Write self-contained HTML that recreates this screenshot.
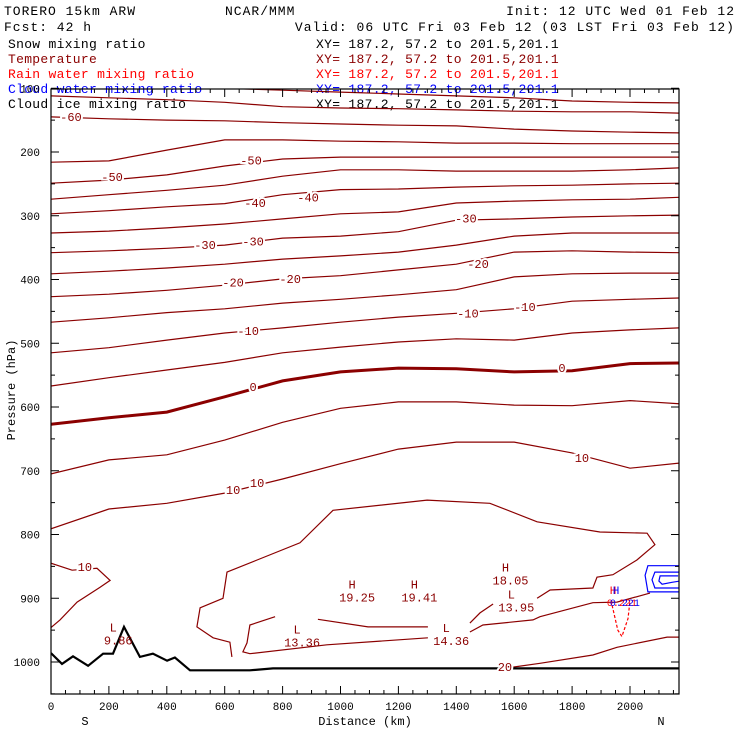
<!DOCTYPE html>
<html><head><meta charset="utf-8"><style>
html,body{margin:0;padding:0;background:#fff;}
svg{display:block;}
text{font-family:"Liberation Mono",monospace;}
.hdr{letter-spacing:1px;}
.leg{letter-spacing:0.3px;}
</style></head><body>
<svg id="chart" width="740" height="740" viewBox="0 0 740 740" xmlns="http://www.w3.org/2000/svg">
<g font-size="13">
<text class="hdr" x="4" y="15" fill="#000">TORERO  15km ARW</text>
<text class="hdr" x="225" y="15" fill="#000">NCAR/MMM</text>
<text class="hdr" x="735" y="15" text-anchor="end" fill="#000">Init: 12 UTC Wed 01 Feb 12</text>
<text class="hdr" x="4" y="31" fill="#000">Fcst:   42 h</text>
<text class="hdr" x="735" y="31" text-anchor="end" fill="#000">Valid: 06 UTC Fri 03 Feb 12 (03 LST Fri 03 Feb 12)</text>
<text class="leg" x="8" y="48" fill="#000">Snow mixing ratio</text>
<text class="leg" x="316" y="48" fill="#000">XY= 187.2, 57.2 to 201.5,201.1</text>
<text class="leg" x="8" y="63" fill="#8b0000">Temperature</text>
<text class="leg" x="316" y="63" fill="#8b0000">XY= 187.2, 57.2 to 201.5,201.1</text>
<text class="leg" x="8" y="78" fill="#ff0000">Rain water mixing ratio</text>
<text class="leg" x="316" y="78" fill="#ff0000">XY= 187.2, 57.2 to 201.5,201.1</text>
<text class="leg" x="8" y="93" fill="#0000ff">Cloud water mixing ratio</text>
<text class="leg" x="316" y="93" fill="#0000ff">XY= 187.2, 57.2 to 201.5,201.1</text>
<text class="leg" x="8" y="108" fill="#000">Cloud ice mixing ratio</text>
<text class="leg" x="316" y="108" fill="#000">XY= 187.2, 57.2 to 201.5,201.1</text>
</g>
<defs><clipPath id="plotclip"><rect x="51" y="89" width="628" height="605"/></clipPath></defs>
<g id="plot" clip-path="url(#plotclip)"></g>
<g id="overlay"></g>
<g id="axes"></g>
<text x="0" y="0" font-size="12" transform="translate(15,390) rotate(-90)" text-anchor="middle" fill="#000">Pressure (hPa)</text>
<text x="365" y="725" font-size="12" text-anchor="middle" fill="#000">Distance (km)</text>
<text x="85" y="725" font-size="12" text-anchor="middle" fill="#000">S</text>
<text x="661" y="725" font-size="12" text-anchor="middle" fill="#000">N</text>
</svg>
<script>
const NS="http://www.w3.org/2000/svg";
// ---- data ----
const isoKm=[0,200,400,600,800,1000,1200,1400,1600,1800,2000,2170];
const isoTemps=[-70,-65,-60,-55,-50,-45,-40,-35,-30,-25,-20,-15,-10,-5,0,5,10];
const isoM70=[95,96,98,100,103,106,109,112,115,120,122,123];
const isoM65=[112,115,118,122,129,131,132,134,136,137,137,139];
const isoM60=[145,148,150,151,154,156,158,159,164,167,169,170];
const isoM55=[216,214,197,181,181,183,184,186,186,187,187,187];
const isoM50=[249,244,236,222,211,208,208,208,208,208,208,208];
const isoM45=[274,267,260,252,238,228,228,230,230,230,228,225];
const isoM40=[297,292,286,281,267,259,258,255,253,252,250,249];
const isoM35=[327,324,319,313,305,297,294,280,277,275,274,271];
const isoM30=[358,355,351,346,335,332,325,307,305,302,300,299];
const isoM25=[391,387,382,376,368,363,357,346,332,327,327,327];
const isoM20=[427,423,417,409,399,394,385,376,357,355,357,358];
const isoM15=[467,460,452,446,437,431,424,416,396,391,390,390];
const isoM10=[515,507,495,484,476,467,459,453,446,434,431,429];
const isoM5=[567,554,542,530,515,506,498,493,495,484,479,476];
const iso0=[627,617,608,584,559,545,539,540,545,543,532,531];
const iso5=[705,683,675,652,624,602,592,592,597,598,590,595];
const iso10=[791,760,751,735,713,689,666,655,655,672,696,688];
const isoLines=[isoM70,isoM65,isoM60,isoM55,isoM50,isoM45,isoM40,isoM35,isoM30,isoM25,isoM20,isoM15,isoM10,isoM5,iso0,iso5,iso10];
// lower contours: [km, hPa] pairs
const c15a=[[0,845],[73,856],[159,853],[204,872],[169,883],[90,906],[31,934],[0,946]];
const c15b=[[625,992],[618,969],[560,962],[504,945],[515,915],[594,900],[608,859],[712,840],[860,813],[974,762],[1299,746],[1516,751],[1679,780],[1896,796],[2059,798],[2086,816],[2024,840],[1941,863],[1886,867],[1872,884],[1724,887],[1679,900]];
const c15c=[[774,929],[687,942],[677,970],[663,984],[687,987],[953,973],[1302,962]];
const c15d=[[1447,953],[1492,942],[1665,934],[1689,929],[1872,907],[1955,906],[2069,892]];
const c15e=[[922,933],[1095,945],[1302,945]];
const c15f=[[1447,939],[1482,923],[1527,909]];
const c20=[[1596,1008],[1689,1002],[1872,989],[1955,977],[2128,961],[2170,961]];
const lowerContours=[c15a,c15b,c15c,c15d,c15e,c15f,c20];
const terrainKm=[0,38,76,128,180,214,252,307,352,401,428,480,687,767,2170];
const terrainHPa=[986,1003,991,1006,987,987,945,992,987,998,993,1013,1013,1010,1010];
const cloudW1=[[2173,849],[2062,849],[2052,864],[2062,890],[2173,890]];
const cloudW2=[[2173,859],[2086,859],[2076,871],[2086,884],[2173,884]];
const cloudW3=[[2166,865],[2104,865],[2100,873],[2111,878],[2145,875],[2173,873]];
const rainDash=[[1938,911],[1958,950],[1972,960],[1993,932],[2000,904]];
const labelText=["-60","-50","-50","-40","-40","-30","-30","-30","-20","-20","-20","-10","-10","-10","0","0","10","10","10","10","20"];
const labelKm=[69,211,691,705,888,532,698,1433,629,826,1475,681,1440,1637,698,1765,629,712,1834,117,1568];
const labelHPa=[145,239,213,280,271,346,340,304,405,399,376,481,453,443,569,539,730,719,680,851,1008];
const extremaType=["L","L","H","H","H","L","L"];
const extremaVal=["9.86","13.36","19.25","19.41","18.05","13.95","14.36"];
const extremaKm=[215,850,1040,1255,1570,1590,1365];
const extremaHPa=[952,955,885,885,858,900,953];
const xTicks=[0,200,400,600,800,1000,1200,1400,1600,1800,2000];
const yTicks=[100,200,300,400,500,600,700,800,900,1000];
// ---- axes functions ----
const X=km=>51+km*0.2895;
const Y=p=>152+(p-200)*0.6375;
const plot=document.getElementById('plot');
const overlay=document.getElementById('overlay');
const axes=document.getElementById('axes');
function pathFrom(pts){return pts.map((q,i)=>(i?'L':'M')+X(q[0]).toFixed(1)+','+Y(q[1]).toFixed(1)).join(' ');}
isoLines.forEach((arr,i)=>{
  const p=document.createElementNS(NS,'path');
  
  
  p.setAttribute('d',pathFrom(arr.map((v,j)=>[isoKm[j],v])));
  p.setAttribute('fill','none');p.setAttribute('stroke','#8b0000');
  p.setAttribute('stroke-width',isoTemps[i]===0?3:1.2);
  plot.appendChild(p);
});
lowerContours.forEach((arr,i)=>{
  const p=document.createElementNS(NS,'path');
  
  
  p.setAttribute('d',pathFrom(arr));
  p.setAttribute('fill','none');p.setAttribute('stroke','#8b0000');p.setAttribute('stroke-width',1.2);
  plot.appendChild(p);
});
[cloudW1,cloudW2,cloudW3].forEach(arr=>{
  const p=document.createElementNS(NS,'path');
  
  
  p.setAttribute('d',pathFrom(arr));
  p.setAttribute('fill','none');p.setAttribute('stroke','#0000ff');p.setAttribute('stroke-width',1.2);
  plot.appendChild(p);
});
{
  const p=document.createElementNS(NS,'path');
  
  
  p.setAttribute('d',pathFrom(rainDash));
  p.setAttribute('fill','none');p.setAttribute('stroke','#ff0000');p.setAttribute('stroke-width',1.2);p.setAttribute('stroke-dasharray','3,2');
  plot.appendChild(p);
}
{
  const p=document.createElementNS(NS,'path');
  
  
  p.setAttribute('d',pathFrom(terrainKm.map((k,i)=>[k,terrainHPa[i]])));
  p.setAttribute('fill','none');p.setAttribute('stroke','#000');p.setAttribute('stroke-width',2.2);
  plot.appendChild(p);
}
labelText.forEach((t,i)=>{
  const tx=document.createElementNS(NS,'text');
  
  
  tx.setAttribute('x',X(labelKm[i]));tx.setAttribute('y',Y(labelHPa[i])+4);
  tx.setAttribute('text-anchor','middle');tx.setAttribute('font-size','12');
  tx.setAttribute('fill','#8b0000');tx.setAttribute('stroke','#fff');tx.setAttribute('stroke-width','4');
  tx.setAttribute('paint-order','stroke');
  tx.textContent=t;
  overlay.appendChild(tx);
});
extremaType.forEach((t,i)=>{
  const a=document.createElementNS(NS,'text');
  
  
  a.setAttribute('x',X(extremaKm[i]));a.setAttribute('y',Y(extremaHPa[i]));
  a.setAttribute('text-anchor','middle');a.setAttribute('font-size','12');a.setAttribute('fill','#8b0000');
  a.textContent=t;overlay.appendChild(a);
  const b=document.createElementNS(NS,'text');
  
  
  b.setAttribute('x',X(extremaKm[i])+5);b.setAttribute('y',Y(extremaHPa[i])+13);
  b.setAttribute('text-anchor','middle');b.setAttribute('font-size','12');b.setAttribute('fill','#8b0000');
  b.textContent=extremaVal[i];overlay.appendChild(b);
});
[['#ff0000',0],['#0000ff',3]].forEach(c=>{
  const h=document.createElementNS(NS,'text');
  
  
  h.setAttribute('x',X(1930)+c[1]);h.setAttribute('y',Y(893));h.setAttribute('font-size','11');h.setAttribute('fill',c[0]);
  h.textContent='H';overlay.appendChild(h);
  const v=document.createElementNS(NS,'text');
  
  
  v.setAttribute('x',X(1920)+c[1]);v.setAttribute('y',Y(912));v.setAttribute('font-size','10');v.setAttribute('fill',c[0]);
  v.textContent='0.221';overlay.appendChild(v);
});
const frame=document.createElementNS(NS,'rect');


frame.setAttribute('x',51);frame.setAttribute('y',89);frame.setAttribute('width',628);frame.setAttribute('height',605);
frame.setAttribute('fill','none');frame.setAttribute('stroke','#000');frame.setAttribute('stroke-width',1.2);
axes.appendChild(frame);
function line(x1,y1,x2,y2,name){
  const l=document.createElementNS(NS,'line');
  
  
  l.setAttribute('x1',x1);l.setAttribute('y1',y1);l.setAttribute('x2',x2);l.setAttribute('y2',y2);
  l.setAttribute('stroke','#000');l.setAttribute('stroke-width',1);axes.appendChild(l);
}
for(let k=0;k<=2150;k+=50){
  const len=(k%200===0)?8:4;const x=X(k);
  line(x,694,x,694-len,'x-tick');
  line(x,89,x,89+len,'x-tick-top');
}
for(let p=100;p<=1050;p+=50){
  const len=(p%100===0)?8:4;const y=Y(p);
  line(51,y,51+len,y,'y-tick');
  line(679,y,679-len,y,'y-tick-right');
}
xTicks.forEach(k=>{
  const t=document.createElementNS(NS,'text');
  
  
  t.setAttribute('x',X(k));t.setAttribute('y',710);t.setAttribute('text-anchor','middle');t.setAttribute('font-size','11');
  t.textContent=k;axes.appendChild(t);
});
yTicks.forEach(p=>{
  const t=document.createElementNS(NS,'text');
  
  
  t.setAttribute('x',40);t.setAttribute('y',Y(p)+4);t.setAttribute('text-anchor','end');t.setAttribute('font-size','11');
  t.textContent=p;axes.appendChild(t);
});
</script>
</body></html>
